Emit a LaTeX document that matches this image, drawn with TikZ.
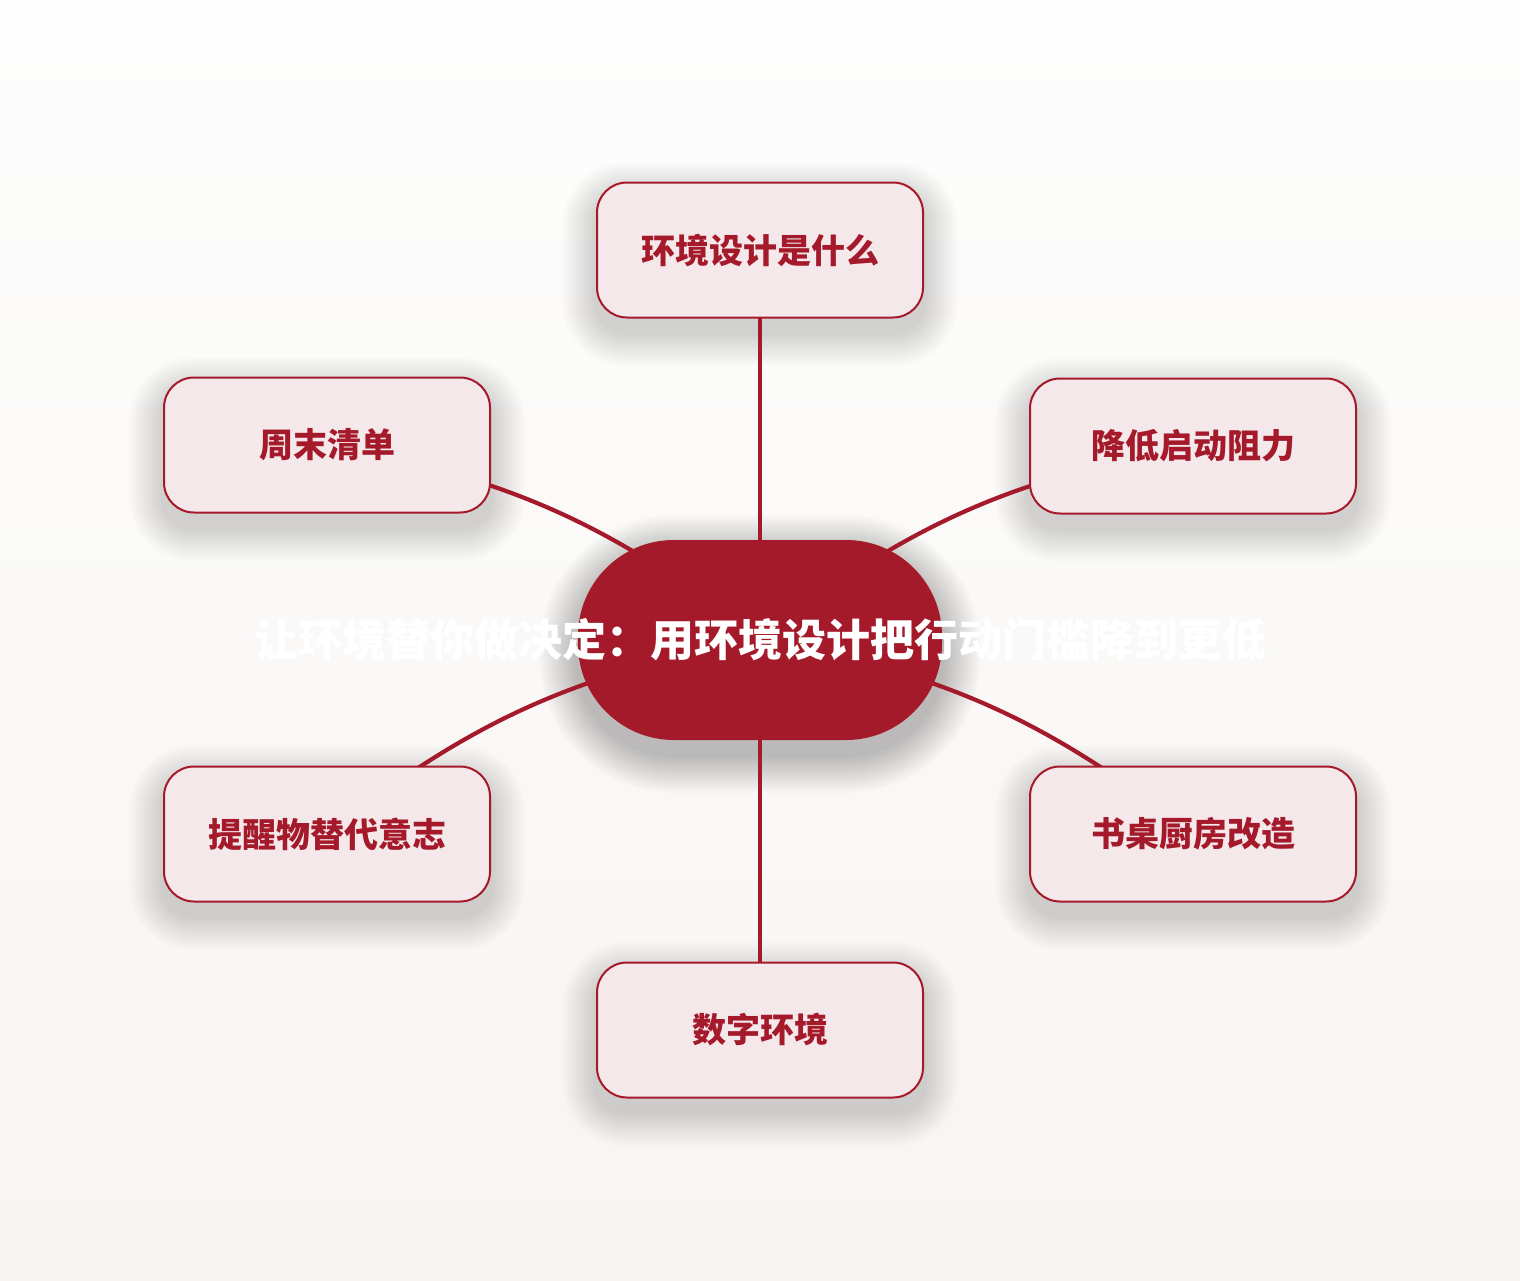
\documentclass[tikz,border=0pt]{standalone}
\usepackage{fontspec}
\newfontfamily\cjk{Noto Sans CJK SC}
\usetikzlibrary{backgrounds}
\definecolor{brand}{HTML}{A51A2B}
\definecolor{boxfill}{HTML}{F5E8EB}
\definecolor{bgtop}{HTML}{FDFDFD}
\definecolor{bgbot}{HTML}{F7F5F2}
\tikzset{
  topic/.style={draw=brand, line width=1pt, fill=boxfill, rounded corners=15pt,
    minimum width=163pt, minimum height=67.5pt, inner sep=0pt, text=brand,
    font=\cjk\bfseries\fontsize{17}{20}\selectfont},
  hub/.style={fill=brand, rounded corners=48pt, minimum width=182pt, minimum height=100pt,
    inner sep=0pt, text=white, font=\cjk\bfseries\fontsize{22}{26}\selectfont},
  link/.style={draw=brand, line width=2.1pt, line cap=round},
  haze/.style={fill=black, fill opacity=#1},
}

\begin{document}
\begin{tikzpicture}[x=0.5pt, y=-0.5pt]
  \useasboundingbox (0,0) rectangle (1520,1280);
  \node[hub] (hub) at (760,640) {\makebox[0pt]{让环境替你做决定：用环境设计把行动门槛降到更低}};
  \node[topic] (whatis)  at (760,250)  {环境设计是什么};
  \node[topic] (weekend) at (327,445)  {周末清单};
  \node[topic] (lower)   at (1193,446) {降低启动阻力};
  \node[topic] (remind)  at (327,834)  {提醒物替代意志};
  \node[topic] (desk)    at (1193,834) {书桌厨房改造};
  \node[topic] (digital) at (760,1030) {数字环境};
  \begin{scope}[on background layer]
    \shade[top color=bgtop, bottom color=bgbot] (0,0) rectangle (1520,1280);
    % soft shadows
    \foreach \n in {whatis,weekend,lower,remind,desk,digital}
      \foreach \k in {1,...,14}
        \fill[haze=0.011, rounded corners={(15+1.2*\k)*1pt}]
          ([shift={(-2.4*\k,-2.4*\k+14)}]\n.north west) rectangle ([shift={(2.4*\k,2.4*\k+14)}]\n.south east);
    \foreach \k in {1,...,16}
      \fill[haze=0.014, rounded corners={(48+1.2*\k)*1pt}]
        ([shift={(-2.4*\k,-2.4*\k+14)}]hub.north west) rectangle ([shift={(2.4*\k,2.4*\k+14)}]hub.south east);
    \draw[link] (hub.center) -- (whatis.center);
    \draw[link] (hub.center) to[bend right=14] (weekend.center);
    \draw[link] (hub.center) to[bend left=14] (lower.center);
    \draw[link] (hub.center) to[bend right=14] (remind.center);
    \draw[link] (hub.center) to[bend left=14] (desk.center);
    \draw[link] (hub.center) -- (digital.center);
  \end{scope}
\end{tikzpicture}
\end{document}
